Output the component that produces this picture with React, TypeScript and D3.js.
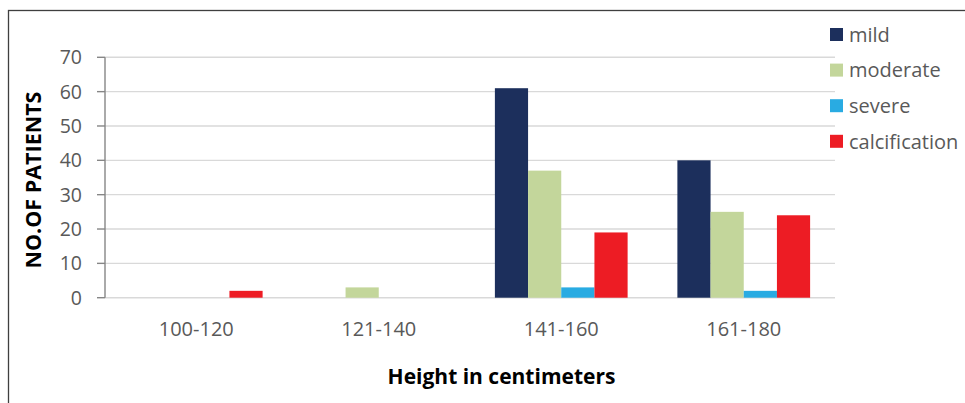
import React from "react";
import * as d3 from "d3";

const categories = ["100-120", "121-140", "141-160", "161-180"];
const seriesNames = ["mild", "moderate", "severe", "calcification"];
const mild = [0, 0, 61, 40];
const moderate = [0, 3, 37, 25];
const severe = [0, 0, 3, 2];
const calcification = [2, 0, 19, 24];
const yTicks = [0, 10, 20, 30, 40, 50, 60, 70];
const colors = ["#1c2f5c", "#c3d69b", "#29abe2", "#ed1c24"];

const W = 965;
const H = 403;
const FONT = "'Open Sans', sans-serif";

export default function App() {
  const seriesValues = [mild, moderate, severe, calcification];
  const x = d3.scaleBand<string>().domain(categories).range([105, 835]).paddingInner(0).paddingOuter(0);
  const xInner = d3
    .scaleBand<string>()
    .domain(seriesNames)
    .range([0, x.bandwidth()])
    .paddingInner(0)
    .paddingOuter(0.75);
  const y = d3.scaleLinear().domain([0, 70]).range([297.7, 57.3]);

  return (
    <svg
      width={W}
      height={H}
      style={{ position: "absolute", left: 0, top: 0, background: "#fff" }}
      fontFamily={FONT}
    >
      <rect x={8.5} y={10.5} width={W + 10} height={H + 10} fill="#fff" stroke="#3f3f3f" strokeWidth={1.3} />

      {/* gridlines */}
      {yTicks.map((t) => (
        <line key={"g" + t} x1={105} x2={835} y1={y(t)} y2={y(t)} stroke="#d9d9d9" strokeWidth={1.4} />
      ))}

      {/* value axis */}
      <line x1={105} x2={105} y1={y(70)} y2={y(0)} stroke="#868686" strokeWidth={1.4} />
      {yTicks.map((t) => (
        <g key={"t" + t}>
          <line x1={97} x2={105} y1={y(t)} y2={y(t)} stroke="#868686" strokeWidth={1.4} />
          <text x={82} y={y(t)} dy="0.36em" textAnchor="end" fontSize={19.5} fill="#595959">
            {t}
          </text>
        </g>
      ))}

      {/* bars */}
      {categories.map((c, ci) => (
        <g key={c} transform={`translate(${x(c)},0)`}>
          {seriesNames.map((s, si) => {
            const v = seriesValues[si][ci];
            if (!v) return null;
            return (
              <rect
                key={s}
                x={xInner(s)}
                y={y(v)}
                width={xInner.bandwidth()}
                height={y(0) - y(v)}
                fill={colors[si]}
              />
            );
          })}
        </g>
      ))}

      {/* category labels */}
      {categories.map((c) => (
        <text
          key={"l" + c}
          x={(x(c) as number) + x.bandwidth() / 2}
          y={336}
          textAnchor="middle"
          fontSize={20}
          fill="#595959"
        >
          {c}
        </text>
      ))}

      {/* axis titles */}
      <text x={501.5} y={384} textAnchor="middle" fontSize={21} fontWeight="bold" fill="#000">
        Height in centimeters
      </text>
      <text
        transform="translate(41,180) rotate(-90)"
        textAnchor="middle"
        fontSize={21.5}
        fontWeight="bold"
        fill="#000"
      >
        NO.OF PATIENTS
      </text>

      {/* legend */}
      {seriesNames.map((s, i) => {
        const cy = 34.5 + i * 35.6;
        return (
          <g key={"lg" + s}>
            <rect x={830} y={cy - 6.5} width={13} height={13} fill={colors[i]} />
            <text x={849} y={cy} dy="0.36em" fontSize={20} fill="#595959">
              {s}
            </text>
          </g>
        );
      })}
    </svg>
  );
}
